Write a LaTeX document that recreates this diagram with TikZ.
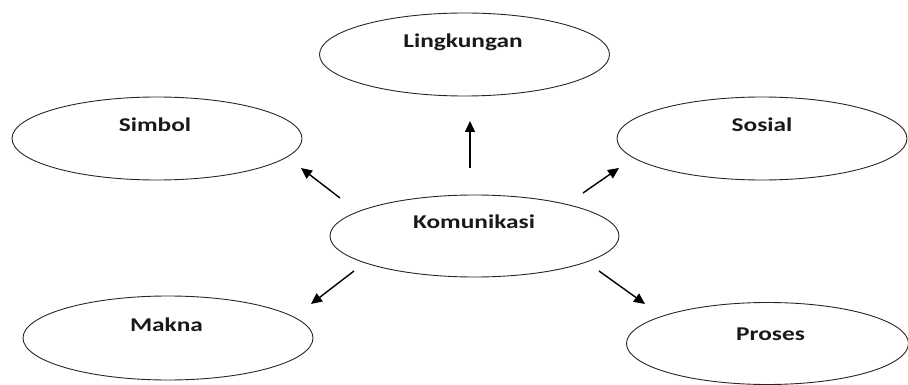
\documentclass[tikz,border=0pt]{standalone}
\usepackage{fontspec}
\setmainfont{Carlito}[FakeStretch=1.3]
\usetikzlibrary{shapes.geometric,arrows.meta}
\begin{document}
\begin{tikzpicture}[x=1pt,y=-1pt,
  oval/.style={draw=black!85,line width=0.9pt,ellipse,inner sep=0pt,minimum width=290pt,minimum height=83pt},
  lbl/.style={anchor=base,inner sep=0pt,font=\fontsize{19.5}{20}\selectfont\bfseries,text=black!90},
  arr/.style={draw=black,line width=1.4pt,-{Triangle[length=11pt,width=10pt]}}]
\useasboundingbox (0,0) rectangle (908,385);
% ellipses
\node[oval] (ling) at (464.5,54.5) {};
\node[oval] (simb) at (157,138.5) {};
\node[oval] (sos) at (762,138.5) {};
\node[oval,minimum width=289pt,minimum height=82pt] (kom) at (474.5,236) {};
\node[oval,minimum height=84pt] (mak) at (168,338) {};
\node[oval,minimum width=282pt,minimum height=82pt] (pro) at (767.5,343.5) {};
% labels
\node[lbl] (lingt) at (463,47.5) {Lingkungan};
\node[lbl] (simbt) at (155,131.5) {Simbol};
\node[lbl] (sost) at (762,131.5) {Sosial};
\node[lbl] (komt) at (474,229) {Komunikasi};
\node[lbl] (makt) at (166.5,331.5) {Makna};
\node[lbl] (prot) at (770.5,340) {Proses};
% arrow end points
\coordinate (u0) at (470,168);
\coordinate (u1) at (470,121);
\coordinate (s0) at (340,198);
\coordinate (s1) at (301,168);
\coordinate (o0) at (583,193);
\coordinate (o1) at (619,168);
\coordinate (m0) at (354,271);
\coordinate (m1) at (311,304);
\coordinate (p0) at (599,271);
\coordinate (p1) at (645,304);
\draw[arr] (u0) -- (u1);
\draw[arr] (s0) -- (s1);
\draw[arr] (o0) -- (o1);
\draw[arr] (m0) -- (m1);
\draw[arr] (p0) -- (p1);
\end{tikzpicture}
\end{document}
